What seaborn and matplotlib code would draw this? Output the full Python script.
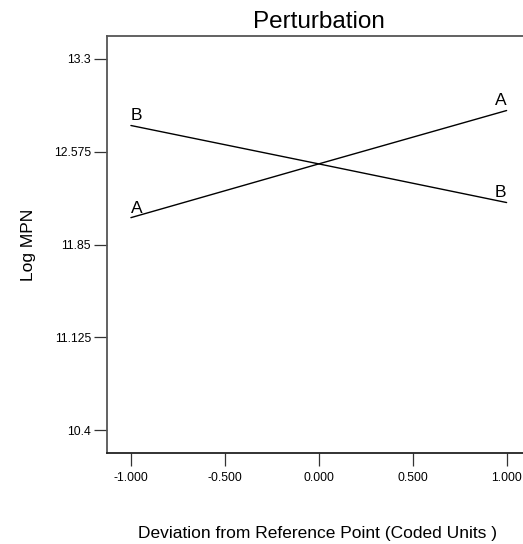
import matplotlib
matplotlib.use("Agg")
import matplotlib.pyplot as plt
import seaborn as sns
import pandas as pd

# Data
deviation = [-1.0, 0.0, 1.0]
factor_A = [12.06, 12.48, 12.897]
factor_B = [12.78, 12.48, 12.178]
factors = ["A", "B"]
x_ticks = [-1.0, -0.5, 0.0, 0.5, 1.0]
x_tick_labels = ["-1.000", "-0.500", "0.000", "0.500", "1.000"]
y_ticks = [10.4, 11.125, 11.85, 12.575, 13.3]
y_tick_labels = ["10.4", "11.125", "11.85", "12.575", "13.3"]

df = pd.DataFrame({
    "Deviation": deviation * 2,
    "LogMPN": factor_A + factor_B,
    "Factor": ["A"] * len(deviation) + ["B"] * len(deviation),
})

sns.set_theme(style="white")
plt.rcParams["font.family"] = ["Liberation Sans", "DejaVu Sans"]
plt.rcParams["text.color"] = "black"
plt.rcParams["axes.labelcolor"] = "black"

fig = plt.figure(figsize=(5.23, 5.44), dpi=100)
ax = fig.add_axes([0.204, 0.167, 0.811, 0.767])

sns.lineplot(data=df, x="Deviation", y="LogMPN", hue="Factor",
             palette={"A": "black", "B": "black"}, linewidth=1.0,
             legend=False, ax=ax)

# end labels
for f in factors:
    sub = df[df["Factor"] == f]
    xs = sub["Deviation"].tolist()
    ys = sub["LogMPN"].tolist()
    ax.annotate(f, (xs[0], ys[0]), xytext=(0, 1.5), textcoords="offset points",
                ha="left", va="bottom", fontsize=12.5, color="black")
    ax.annotate(f, (xs[-1], ys[-1]), xytext=(0, 1.5), textcoords="offset points",
                ha="right", va="bottom", fontsize=12.5, color="black")

ax.set_xlim(-1.129, 1.129)
ax.set_ylim(10.22, 13.48)
ax.set_xticks(x_ticks)
ax.set_xticklabels(x_tick_labels)
ax.set_yticks(y_ticks)
ax.set_yticklabels(y_tick_labels)
ax.tick_params(axis="both", which="major", bottom=True, left=True,
               direction="out", length=9.3, width=0.9,
               color="#333333", labelsize=8.8, labelcolor="black")
ax.tick_params(axis="x", pad=4)
ax.tick_params(axis="y", pad=2)

for s in ax.spines.values():
    s.set_color("#555555")
    s.set_linewidth(1.3)
ax.spines["bottom"].set_color("#222222")

ax.set_title("Perturbation", fontsize=17.5, pad=6, color="black")
ax.set_ylabel("Log MPN", fontsize=12.5, labelpad=13)
ax.set_xlabel("Deviation from Reference Point (Coded Units )", fontsize=12.5,
              va="center")
ax.xaxis.set_label_coords(0.497, -0.192)

fig.savefig("out.png", dpi=100)
